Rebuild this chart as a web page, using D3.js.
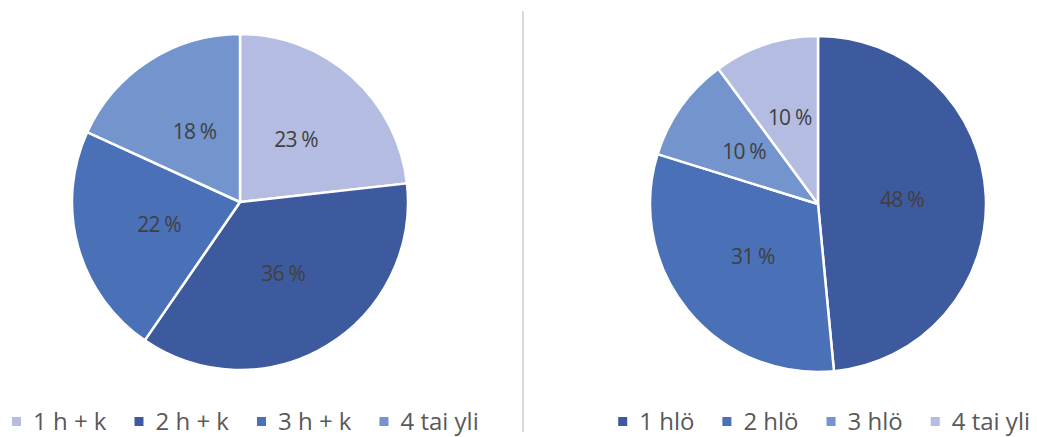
<!DOCTYPE html>
<html><head><meta charset="utf-8">
<script src="https://cdn.jsdelivr.net/npm/d3@7"></script>
<style>body{margin:0;background:#fff}svg{display:block}</style>
</head><body><svg id="c" width="1037" height="437"></svg>
<script>
const leftCategories = ["1 h + k", "2 h + k", "3 h + k", "4 tai yli"];
const leftValues = [23, 36, 22, 18];
const leftColors = ["#b4bde1", "#3d5a9e", "#4a71b8", "#7394cd"];
const rightCategories = ["1 hlö", "2 hlö", "3 hlö", "4 tai yli"];
const rightValues = [48, 31, 10, 10];
const rightColors = ["#3d5a9e", "#4a71b8", "#7394cd", "#b4bde1"];

const svg = d3.select("#c");
const R = 168;
const font = "'Open Sans', sans-serif";

svg.append("line").attr("x1", 523).attr("x2", 523).attr("y1", 11).attr("y2", 432)
  .attr("stroke", "#d9d9d9").attr("stroke-width", 2);

function drawPie(cx, cy, cats, vals, colors, legendX, legendAlign) {
  const g = svg.append("g").attr("transform", `translate(${cx},${cy})`);
  const pie = d3.pie().sort(null).value(d => d.v);
  const data = pie(cats.map((c, i) => ({c, v: vals[i], col: colors[i]})));
  const arc = d3.arc().innerRadius(0).outerRadius(R);
  const labelR = d => (d.endAngle - d.startAngle) < 0.8 ? R * 0.54 : R * 0.5;
  g.selectAll("path").data(data).join("path")
    .attr("d", arc).attr("fill", d => d.data.col)
    .attr("stroke", "#fff").attr("stroke-width", 2.5).attr("stroke-linejoin", "round");
  g.selectAll("text").data(data).join("text")
    .attr("transform", d => {
      const a = d3.arc().innerRadius(labelR(d)).outerRadius(labelR(d));
      return `translate(${a.centroid(d)})`;
    })
    .attr("text-anchor", "middle").attr("dy", "0.35em")
    .attr("font-family", font).attr("font-size", 21).attr("fill", "#404040")
    .attr("letter-spacing", -0.8)
    .text(d => d.data.v + " %");

  // legend
  const lg = svg.append("g");
  let x = 0;
  cats.forEach((c, i) => {
    const it = lg.append("g");
    it.append("rect").attr("x", 0).attr("y", -4).attr("width", 9).attr("height", 9).attr("fill", colors[i]);
    const t = it.append("text").attr("x", 21).attr("y", 0).attr("dy", "0.36em")
      .attr("font-family", font).attr("font-size", 24).attr("fill", "#595959").text(c);
    const w = 21 + t.node().getComputedTextLength();
    it.attr("transform", `translate(${x},421)`);
    x += w + 28;
  });
  const total = x - 28;
  const startX = legendAlign === "start" ? legendX : legendX - total;
  lg.attr("transform", `translate(${startX},0)`);
}

drawPie(240, 202, leftCategories, leftValues, leftColors, 12, "start");
drawPie(818, 204, rightCategories, rightValues, rightColors, 1030, "end");
</script></body></html>
